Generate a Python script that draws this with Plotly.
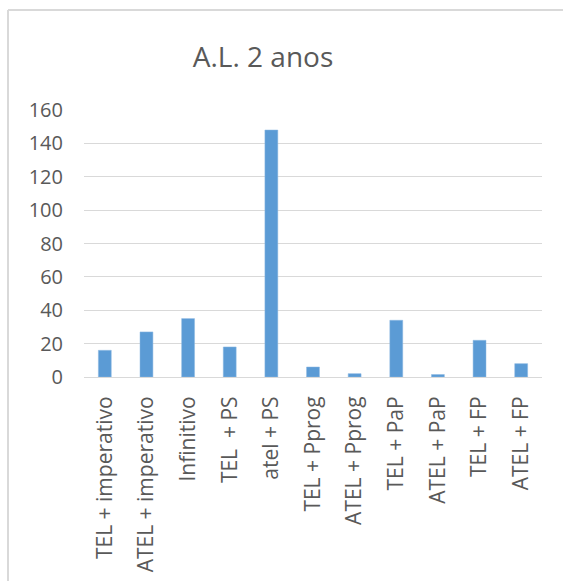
import plotly.graph_objects as go

categories = ["TEL + imperativo", "ATEL + imperativo", "Infinitivo", "TEL\u00a0 + PS",
              "atel + PS", "TEL + Pprog", "ATEL + Pprog", "TEL + PaP",
              "ATEL + PaP", "TEL + FP", "ATEL + FP"]
values = [16, 27, 35, 18, 148, 6, 2, 34, 1.5, 22, 8]
y_ticks = [0, 20, 40, 60, 80, 100, 120, 140, 160]

W, H = 563, 581
L, R, T, B = 84, 21, 110, 204
pw, ph = W - L - R, H - T - B

def px_x(x):
    return (x - L) / pw

def px_y(y):
    return (H - B - y) / ph

text_col = "#595959"
grid_col = "#D9D9D9"
font = "Open Sans"

fig = go.Figure(go.Bar(x=categories, y=values, marker=dict(color="#5B9BD5",
                line=dict(color="#8DB9E3", width=0.5))))

fig.update_layout(
    width=W, height=H,
    margin=dict(l=L, r=R, t=T, b=B),
    paper_bgcolor="white", plot_bgcolor="white",
    bargap=0.69,
    showlegend=False,
    title=dict(text="A.L. 2 anos", x=263 / W, xref="container", xanchor="center",
               y=1 - 57 / H, yref="container", yanchor="middle",
               font=dict(family=font, size=28, color=text_col)),
    font=dict(family=font, color=text_col),
)
fig.update_yaxes(range=[0, 160], tickvals=y_ticks, showgrid=True, gridcolor=grid_col,
                 gridwidth=1, zeroline=False, showline=False, ticks="",
                 tickfont=dict(family=font, size=20, color=text_col),
                 ticklabelstandoff=20, automargin=False)
fig.update_xaxes(tickangle=-90, showgrid=False, showline=True, linecolor=grid_col,
                 linewidth=1, ticks="", tickfont=dict(family=font, size=21, color=text_col),
                 ticklabelstandoff=10, automargin=False)

# chart-area border (left and top edges visible)
fig.add_shape(type="line", xref="paper", yref="paper", x0=px_x(8), x1=px_x(8),
              y0=px_y(10), y1=px_y(H + 5), line=dict(color=grid_col, width=2))
fig.add_shape(type="line", xref="paper", yref="paper", x0=px_x(8), x1=px_x(W + 5),
              y0=px_y(10), y1=px_y(10), line=dict(color=grid_col, width=2))

fig.write_html("out.html")
